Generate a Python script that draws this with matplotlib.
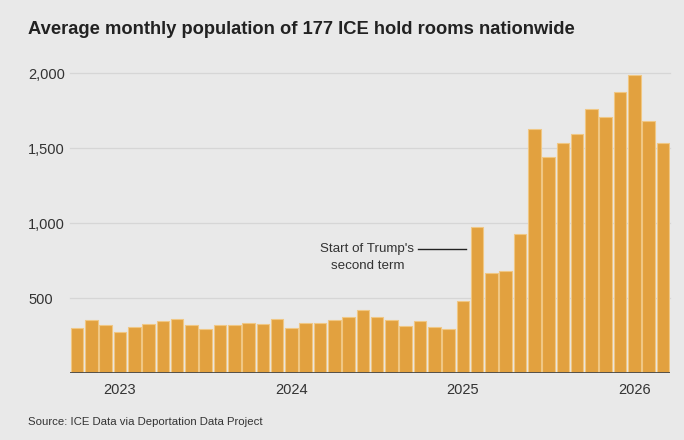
import numpy as np
import pandas as pd
import matplotlib
matplotlib.use("Agg")
import matplotlib.pyplot as plt

# monthly averages, Oct 2022 - Mar 2026
months = pd.period_range("2022-10", "2026-03", freq="M")
population = [300, 355, 318, 275, 309, 327, 349, 360, 320, 293,
              318, 320, 331, 330, 358, 302, 335, 335, 353, 371,
              422, 374, 356, 316, 347, 307, 296, 478, 976, 667,
              680, 924, 1627, 1440, 1536, 1596, 1760, 1707, 1876, 1989,
              1678, 1531]
year_labels = ["2023", "2024", "2025", "2026"]
y_ticks = [500, 1000, 1500, 2000]

bg = "#E9E9E9"
bar_color = "#E2A13F"
plt.rcParams['font.family'] = ['Liberation Sans', 'DejaVu Sans']

fig = plt.figure(figsize=(6.84, 4.40), dpi=100, facecolor=bg)
ax = fig.add_axes([70/684, 1 - 373/440, 600/684, 300/440], facecolor=bg)

x = np.arange(len(months))
ax.bar(x, population, width=0.88, color=bar_color,
       edgecolor="#F0C784", linewidth=0.8, zorder=2)

ax.set_xlim(-0.5, len(months) - 0.5)
ax.set_ylim(0, 2000)

# gridlines
for v in y_ticks:
    ax.axhline(v, color="#D6D6D6", linewidth=0.9, zorder=1, clip_on=False)
ax.axhline(0, color="#4A4A4A", linewidth=1.3, zorder=3)

ax.set_yticks(y_ticks)
ax.set_yticklabels([f"{v:,}" for v in y_ticks])
jan_idx = [i for i, m in enumerate(months) if m.month == 1]
ax.set_xticks(jan_idx)
ax.set_xticklabels(year_labels)
ax.tick_params(length=0, labelsize=10.5, colors="#333333")
ax.tick_params(axis="x", pad=7)
for lbl in ax.get_yticklabels():
    lbl.set_horizontalalignment("left")
ax.tick_params(axis="y", pad=30)
for s in ax.spines.values():
    s.set_visible(False)

# annotation for Trump's second term
ax.plot([23.85, 27.2], [827, 827], color="#222222", linewidth=1, zorder=4)
ax.text(23.6, 868, "Start of Trump's\nsecond term", ha="right", va="top",
        multialignment="center", fontsize=9.6, color="#333333",
        linespacing=1.55)

fig.text(28/684, 1 - 30/440, "Average monthly population of 177 ICE hold rooms nationwide",
         fontsize=13.2, fontweight="bold", color="#222222", va="center", ha="left")
fig.text(28/684, 1 - 422/440, "Source: ICE Data via Deportation Data Project",
         fontsize=8.2, color="#333333", va="center", ha="left")

fig.savefig("out.png", dpi=100, facecolor=bg)
